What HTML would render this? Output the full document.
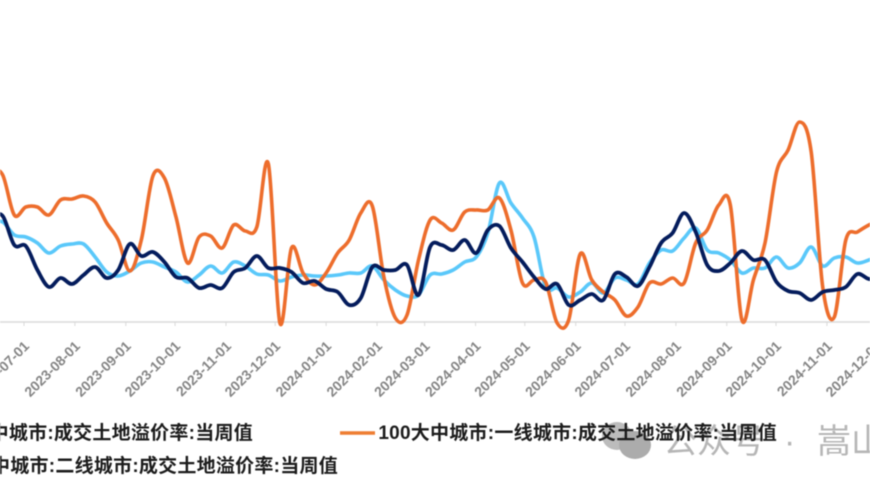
<!DOCTYPE html>
<html>
<head>
<meta charset="utf-8">
<style>
html,body{margin:0;padding:0;background:#fff;}
body{width:870px;height:492px;overflow:hidden;position:relative;}
svg{position:absolute;left:0;top:0;filter:blur(0.6px);}
.tick-label{font:bold 14px "Liberation Sans",sans-serif;fill:#858585;}
.legend-text{font:bold 19px "Liberation Sans","Noto Sans CJK SC",sans-serif;fill:#1c1c1c;letter-spacing:0.25px;}
.wm{font:400 34px "Liberation Sans","Noto Sans CJK SC",sans-serif;fill:#b6b6b6;}
</style>
</head>
<body>
<svg id="chart" width="870" height="492" viewBox="0 0 870 492" xmlns="http://www.w3.org/2000/svg">
  <g>
    <ellipse cx="617" cy="436" rx="15" ry="14" fill="#bcbcbc"/>
    <ellipse cx="635" cy="445" rx="16" ry="14" fill="#acacac"/>
    <text class="wm" x="663" y="453">公众号</text>
    <text class="wm" x="784" y="453">·</text>
    <text class="wm" x="817" y="453">嵩山</text>
  </g>
  <g id="axis"></g>
  <g id="series"></g>
  <g>
    <text class="legend-text" x="253" y="439" text-anchor="end">100大中城市:成交土地溢价率:当周值</text>
    <line x1="340" x2="375" y1="433" y2="433" stroke="#ed7d31" stroke-width="3.5"/>
    <text class="legend-text" x="777" y="439" text-anchor="end">100大中城市:一线城市:成交土地溢价率:当周值</text>
    <text class="legend-text" x="338" y="472" text-anchor="end">100大中城市:二线城市:成交土地溢价率:当周值</text>
  </g>
</svg>
<script>
const tickLabels = ["2023-07-01","2023-08-01","2023-09-01","2023-10-01","2023-11-01","2023-12-01","2024-01-01","2024-02-01","2024-03-01","2024-04-01","2024-05-01","2024-06-01","2024-07-01","2024-08-01","2024-09-01","2024-10-01","2024-11-01","2024-12-01"];
const firstSampleDate = "2023-06-11";
const sampleStepDays = 7.034;
const tier1Values = [15.3,14.7,10.7,11.5,11.5,10.7,12.2,12.3,12.6,12.0,9.9,8.2,5.1,8.2,14.6,14.4,10.5,5.9,8.5,8.6,7.4,9.7,9.1,9.5,15.8,-0.1,7.4,4.9,3.7,4.9,6.9,8.2,10.9,11.6,4.5,0.4,0.7,6.2,10.2,9.9,9.2,11.0,11.2,11.2,12.4,9.2,3.9,4.2,4.0,-0.1,0.2,6.8,4.2,3.0,2.2,0.6,1.5,3.9,3.8,4.4,3.9,7.9,9.2,11.7,11.7,0.2,4.2,7.9,15.0,17.2,20.0,17.0,3.5,0.5,8.2,9.0,9.7,10.2];
const tier2Values = [10.0,10.0,8.7,8.5,7.9,6.9,7.6,7.8,7.8,6.5,5.0,4.6,5.1,5.9,6.0,5.5,5.0,4.0,4.7,5.6,4.9,6.0,5.6,4.8,4.7,4.1,4.5,4.7,4.6,4.6,4.7,4.9,4.9,5.6,4.2,3.2,2.6,2.7,4.7,4.8,5.2,6.0,6.5,8.9,13.9,11.9,10.4,8.5,3.5,3.4,2.5,3.0,3.9,2.9,4.4,4.2,3.8,5.9,7.2,7.1,8.4,9.4,7.2,6.9,6.2,4.9,5.4,5.4,6.5,5.4,5.9,7.5,5.6,6.4,6.5,5.9,6.2,6.7];
const allCityValues = [10.6,10.6,7.7,7.6,5.2,3.5,4.4,3.8,4.7,5.5,4.4,5.2,7.8,6.6,7.0,6.0,4.5,4.4,3.4,3.7,3.4,5.0,5.4,6.6,5.4,5.4,5.0,3.9,4.1,3.3,3.0,1.7,2.4,5.5,5.2,5.2,5.7,2.7,7.5,7.7,7.2,8.2,6.9,9.2,9.6,7.4,6.0,4.5,3.3,3.8,1.7,2.2,2.8,2.2,4.8,4.5,3.6,5.5,7.9,8.9,10.9,9.0,5.7,5.1,5.9,7.1,6.2,6.2,4.0,3.1,2.9,2.2,3.0,3.2,3.5,4.8,4.3,4.4];

const DAY_MS = 86400000;
const xOriginMs = Date.UTC(2023, 6, 1);
function xScale(ms) { return 24 + (ms - xOriginMs) / DAY_MS * 1.642; }
function yScale(v) { return 322 - v * 10; }
function parseDate(s) { const p = s.split('-').map(Number); return Date.UTC(p[0], p[1] - 1, p[2]); }
function smoothPath(values) {
  const start = parseDate(firstSampleDate);
  const pts = values.map(function (v, i) { return [xScale(start + i * sampleStepDays * DAY_MS), yScale(v)]; });
  let d = 'M' + pts[0][0].toFixed(1) + ' ' + pts[0][1].toFixed(1);
  for (let i = 0; i < pts.length - 1; i++) {
    const p0 = pts[Math.max(i - 1, 0)], p1 = pts[i], p2 = pts[i + 1], p3 = pts[Math.min(i + 2, pts.length - 1)];
    const c1x = p1[0] + (p2[0] - p0[0]) / 6, c1y = p1[1] + (p2[1] - p0[1]) / 6;
    const c2x = p2[0] - (p3[0] - p1[0]) / 6, c2y = p2[1] - (p3[1] - p1[1]) / 6;
    d += 'C' + c1x.toFixed(1) + ' ' + c1y.toFixed(1) + ' ' + c2x.toFixed(1) + ' ' + c2y.toFixed(1) + ' ' + p2[0].toFixed(1) + ' ' + p2[1].toFixed(1);
  }
  return d;
}
const NS = 'http://www.w3.org/2000/svg';
const axisGroup = document.getElementById('axis');
const seriesGroup = document.getElementById('series');

const axisLine = document.createElementNS(NS, 'line');


axisLine.setAttribute('x1', 0);
axisLine.setAttribute('x2', 870);
axisLine.setAttribute('y1', yScale(0));
axisLine.setAttribute('y2', yScale(0));
axisLine.setAttribute('stroke', '#d9d9d9');
axisLine.setAttribute('stroke-width', '1.5');
axisGroup.appendChild(axisLine);

tickLabels.forEach(function (label) {
  const x = xScale(parseDate(label));
  const tick = document.createElementNS(NS, 'line');
  
  
  tick.setAttribute('x1', x);
  tick.setAttribute('x2', x);
  tick.setAttribute('y1', yScale(0));
  tick.setAttribute('y2', yScale(0) + 4);
  tick.setAttribute('stroke', '#d9d9d9');
  tick.setAttribute('stroke-width', '1');
  axisGroup.appendChild(tick);
  const text = document.createElementNS(NS, 'text');
  
  
  text.setAttribute('class', 'tick-label');
  text.setAttribute('text-anchor', 'end');
  text.setAttribute('transform', 'translate(' + (x + 6).toFixed(1) + ' 347) rotate(-45)');
  text.textContent = label;
  axisGroup.appendChild(text);
});

const tier2Line = document.createElementNS(NS, 'path');


tier2Line.setAttribute('d', smoothPath(tier2Values));
tier2Line.setAttribute('fill', 'none');
tier2Line.setAttribute('stroke', '#5ac8fa');
tier2Line.setAttribute('stroke-width', '3.6');
tier2Line.setAttribute('stroke-linejoin', 'round');
seriesGroup.appendChild(tier2Line);

const tier1Line = document.createElementNS(NS, 'path');


tier1Line.setAttribute('d', smoothPath(tier1Values));
tier1Line.setAttribute('fill', 'none');
tier1Line.setAttribute('stroke', '#ed6d2c');
tier1Line.setAttribute('stroke-width', '3.6');
tier1Line.setAttribute('stroke-linejoin', 'round');
seriesGroup.appendChild(tier1Line);

const allCityLine = document.createElementNS(NS, 'path');


allCityLine.setAttribute('d', smoothPath(allCityValues));
allCityLine.setAttribute('fill', 'none');
allCityLine.setAttribute('stroke', '#041c5c');
allCityLine.setAttribute('stroke-width', '3.8');
allCityLine.setAttribute('stroke-linejoin', 'round');
seriesGroup.appendChild(allCityLine);
</script>
</body>
</html>
